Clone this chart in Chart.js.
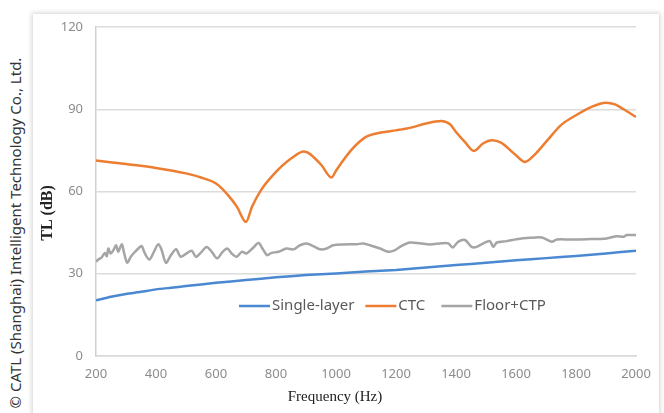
<!DOCTYPE html>
<html>
<head>
<meta charset="utf-8">
<script src="https://cdn.jsdelivr.net/npm/chart.js@4/dist/chart.umd.min.js"></script>
<style>
  html, body { margin: 0; padding: 0; background: #ffffff; width: 664px; height: 413px; overflow: hidden; }
  #card { position: absolute; left: 33px; top: 14px; width: 626px; height: 420px; background: #fff;
          box-shadow: 0 0 5px 1px rgba(0,0,0,0.18); }
  #wm { position: absolute; left: -185px; top: 223px; width: 400px; height: 20px; line-height: 20px;
        transform: rotate(-90deg); text-align: center; font-family: "Noto Sans", sans-serif;
        font-size: 15px; color: #333; white-space: nowrap; }
  canvas { position: absolute; left: 0; top: 0; }
</style>
</head>
<body>
<div id="card"></div>
<div id="wm">© CATL (Shanghai) Intelligent Technology Co., Ltd.</div>
<canvas id="c" width="664" height="413"></canvas>
<script>
// ---- data ----
const seriesNames = ["Single-layer", "CTC", "Floor+CTP"];
const xTicks = [200, 400, 600, 800, 1000, 1200, 1400, 1600, 1800, 2000];
const yTicks = [0, 30, 60, 90, 120];
const xTitle = "Frequency (Hz)";
const yTitle = "TL (dB)";

const singleFreq = [200,250,300,350,400,450,500,600,700,800,900,1000,1100,1200,1300,1400,1500,1600,1700,1800,1900,2000];
const singleTL   = [20.3,21.6,22.6,23.4,24.3,24.9,25.5,26.7,27.7,28.7,29.5,30.1,30.8,31.4,32.3,33.2,34.0,34.9,35.7,36.5,37.4,38.4];

const ctcFreq = [200,300,400,500,550,600,640,670,700,720,750,790,850,893,950,985,1000,1050,1100,1150,1200,1250,1300,1350,1380,1400,1430,1460,1490,1520,1550,1600,1630,1660,1700,1750,1800,1850,1900,1930,1960,2000];
const ctcTL   = [71.3,70.0,68.6,66.6,65.1,62.9,58.7,54.4,48.9,54.4,60.5,66.0,72.0,74.6,69.8,65.1,67.6,75.0,79.9,81.5,82.3,83.3,84.8,85.7,84.5,81.7,78.0,74.8,77.5,78.7,77.8,73.2,70.8,73.2,78.1,84.2,87.8,90.8,92.4,91.8,89.9,87.2];

const floorFreq = [200,208,219,230,236,241,249,258,267,274,286,294,304,316,330,341,352,363,378,393,408,419,433,450,467,482,502,519,533,552,569,586,604,622,638,652,669,686,702,724,742,756,770,785,808,835,858,880,902,924,947,969,991,1024,1069,1091,1113,1147,1174,1197,1219,1247,1280,1313,1352,1374,1389,1408,1430,1452,1469,1491,1513,1524,1536,1569,1602,1647,1686,1719,1736,1780,1836,1902,1936,1958,1969,2000];
const floorTL   = [34.4,35.2,36.0,37.6,36.4,39.2,37.4,38.6,40.4,38.0,40.8,37.4,34.0,36.2,38.0,39.2,40.1,37.4,35.2,38.0,40.8,38.6,34.0,36.8,38.9,36.2,37.4,38.4,36.2,38.0,39.8,38.0,35.6,38.0,39.2,37.4,36.2,38.0,37.4,39.5,41.2,39.0,36.8,37.6,38.0,39.2,38.9,40.4,41.0,40.1,38.9,39.2,40.4,40.7,40.8,41.0,40.4,39.2,38.0,38.6,40.2,41.4,41.1,40.7,41.1,41.1,39.6,41.7,42.3,39.8,39.8,41.1,41.9,39.8,41.4,41.9,42.6,43.1,43.2,41.7,42.5,42.5,42.6,42.9,43.7,43.5,44.1,44.1];

const colors = ["#4a88d2", "#ed7d31", "#a5a5a5"];

function pts(xs, ys) { return xs.map((x, i) => ({ x: x, y: ys[i] })); }

const decorPlugin = {
  id: 'decor',
  afterDatasetsDraw(chart) {
    const ctx = chart.ctx, ca = chart.chartArea;
    ctx.save();
    // legend inside plot
    ctx.font = '15px "Noto Sans", sans-serif';
    ctx.textBaseline = 'middle';
    let x = ca.left + 143;
    const y = ca.top + 279;
    const gaps = [11, 16, 0];
    seriesNames.forEach((name, i) => {
      ctx.strokeStyle = colors[i];
      ctx.lineWidth = 2.5;
      ctx.beginPath(); ctx.moveTo(x, y); ctx.lineTo(x + 31, y); ctx.stroke();
      x += 33;
      ctx.fillStyle = '#595959';
      ctx.fillText(name, x, y);
      x += ctx.measureText(name).width + gaps[i];
    });
    // axis titles
    ctx.fillStyle = '#222';
    ctx.textAlign = 'center';
    ctx.font = '15px "Liberation Serif", serif';
    ctx.fillText(xTitle, ca.left + 239, ca.bottom + 41);
    ctx.translate(ca.left - 48, ca.top + 186);
    ctx.rotate(-Math.PI / 2);
    ctx.font = 'bold 16px "Liberation Serif", serif';
    ctx.fillText(yTitle, 0, 0);
    ctx.restore();
  }
};

new Chart(document.getElementById('c'), {
  type: 'line',
  data: {
    datasets: [
      { label: seriesNames[0], data: pts(singleFreq, singleTL), borderColor: colors[0], borderWidth: 2.5, pointRadius: 0, tension: 0.2 },
      { label: seriesNames[1], data: pts(ctcFreq, ctcTL), borderColor: colors[1], borderWidth: 2.5, pointRadius: 0, cubicInterpolationMode: 'monotone' },
      { label: seriesNames[2], data: pts(floorFreq, floorTL), borderColor: colors[2], borderWidth: 2.5, pointRadius: 0, tension: 0.3 }
    ]
  },
  options: {
    responsive: false,
    animation: false,
    devicePixelRatio: 1,
    layout: { padding: { left: 36, right: 28, top: 27, bottom: 0 } },
    plugins: { legend: { display: false }, tooltip: { enabled: false } },
    scales: {
      x: {
        type: 'linear', min: 200, max: 2000,
        afterFit(s) { s.height = 57; },
        afterBuildTicks(s) { s.ticks = xTicks.map(v => ({ value: v })); },
        grid: { display: false, drawTicks: false },
        border: { display: true, color: '#d9d9d9', width: 1.5 },
        ticks: { padding: 10, color: '#8c8c8c', font: { family: '"Noto Sans", sans-serif', size: 13 }, maxRotation: 0,
                 callback: v => String(v) }
      },
      y: {
        min: 0, max: 120,
        afterFit(s) { s.width = 60; },
        afterBuildTicks(s) { s.ticks = yTicks.map(v => ({ value: v })); },
        grid: { color: '#dcdcdc', lineWidth: 1.5, drawTicks: false },
        border: { display: true, color: '#d0d0d0', width: 1.5 },
        ticks: { padding: 13, color: '#8c8c8c', font: { family: '"Noto Sans", sans-serif', size: 13 },
                 callback: v => String(v) }
      }
    }
  },
  plugins: [decorPlugin]
});
</script>
</body>
</html>
